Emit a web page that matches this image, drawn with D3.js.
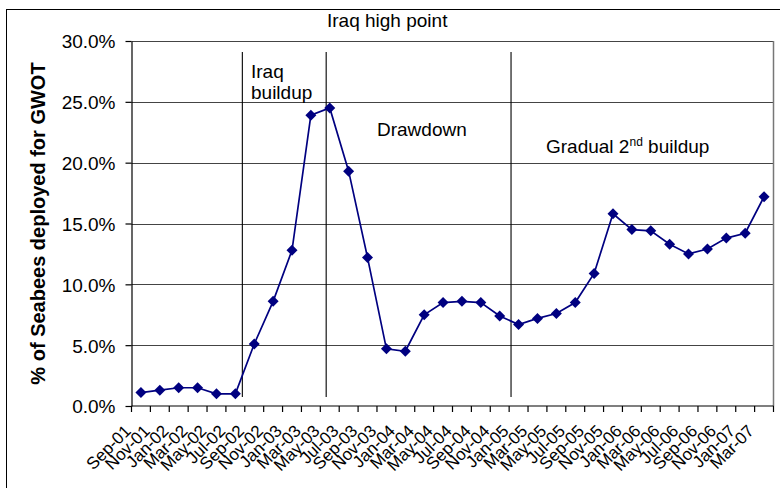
<!DOCTYPE html>
<html>
<head>
<meta charset="utf-8">
<script src="https://cdn.jsdelivr.net/npm/d3@7"></script>
<style>
  html, body { margin: 0; padding: 0; background: #fff; }
  svg { display: block; }
  text { font-family: "Liberation Sans", Arial, sans-serif; fill: #000; }
</style>
</head>
<body>
<svg id="chart" width="780" height="488"></svg>
<script>
// Bimonthly reporting dates
const months = [
  "Sep-01","Nov-01","Jan-02","Mar-02","May-02","Jul-02",
  "Sep-02","Nov-02","Jan-03","Mar-03","May-03","Jul-03",
  "Sep-03","Nov-03","Jan-04","Mar-04","May-04","Jul-04",
  "Sep-04","Nov-04","Jan-05","Mar-05","May-05","Jul-05",
  "Sep-05","Nov-05","Jan-06","Mar-06","May-06","Jul-06",
  "Sep-06","Nov-06","Jan-07","Mar-07"
];

// Share of Seabees deployed for GWOT (%)
const deployedPct = [
  1.1, 1.3, 1.5, 1.5, 1.0, 1.0,
  5.1, 8.6, 12.8, 23.9, 24.5, 19.3,
  12.2, 4.7, 4.5, 7.5, 8.5, 8.6,
  8.5, 7.4, 6.7, 7.2, 7.6, 8.5,
  10.9, 15.8, 14.5, 14.4, 13.3, 12.5,
  12.9, 13.8, 14.2, 17.2
];

const yTicks = [0, 5, 10, 15, 20, 25, 30];

// Phase boundaries, in months-axis units (0 = left edge of Sep-01)
const phaseBreaks = [5.87, 10.31, 20.1];
const phaseLineSpan = [0.75, 29.1]; // vertical extent, in % units

const svg = d3.select("#chart");

const plotL = 131.5, plotR = 773.5, plotT = 41, plotB = 406;

const x = d3.scaleBand().domain(months).range([plotL, plotR]).padding(0);
const xIdx = d3.scaleLinear().domain([0, months.length]).range([plotL, plotR]);
const y = d3.scaleLinear().domain([0, 30]).range([plotB, plotT]);

// outer frame
svg.append("rect")
  .attr("x", 6.5).attr("y", 9.5)
  .attr("width", 800).attr("height", 500)
  .attr("fill", "none").attr("stroke", "#000").attr("stroke-width", 1);

// horizontal gridlines
svg.append("g")
  .selectAll("line")
  .data(yTicks.filter(d => d > 0))
  .join("line")
  .attr("x1", plotL).attr("x2", plotR)
  .attr("y1", d => Math.round(y(d)) + 0.5).attr("y2", d => Math.round(y(d)) + 0.5)
  .attr("stroke", "#444").attr("stroke-width", 1.2);

// right edge of plot area
svg.append("line")
  .attr("x1", plotR).attr("x2", plotR)
  .attr("y1", y(30)).attr("y2", y(0))
  .attr("stroke", "#777").attr("stroke-width", 1.5);

// phase divider lines
svg.append("g")
  .selectAll("line")
  .data(phaseBreaks)
  .join("line")
  .attr("x1", d => xIdx(d)).attr("x2", d => xIdx(d))
  .attr("y1", y(phaseLineSpan[1])).attr("y2", y(phaseLineSpan[0]))
  .attr("stroke", "#000").attr("stroke-width", 1.1);

// y axis
const yAxis = d3.axisLeft(y)
  .tickValues(yTicks)
  .tickFormat(d => d.toFixed(1) + "%")
  .tickSizeInner(6).tickSizeOuter(0).tickPadding(10);

const gy = svg.append("g")
  .attr("transform", `translate(${plotL},0)`)
  .call(yAxis);
gy.select(".domain").attr("stroke", "#000").attr("stroke-width", 1.2);
gy.selectAll(".tick line").attr("stroke", "#000").attr("stroke-width", 1.2);
gy.selectAll(".tick text")
  .style("font-size", "19px")
  .attr("dy", "0.36em");

// x axis: ticks between categories
const gx = svg.append("g")
  .attr("transform", `translate(0,${plotB})`);
gx.append("line")
  .attr("x1", plotL).attr("x2", plotR)
  .attr("y1", 0).attr("y2", 0)
  .attr("stroke", "#000").attr("stroke-width", 1.2);
gx.selectAll("line.tk")
  .data(d3.range(months.length + 1))
  .join("line")
  .attr("class", "tk")
  .attr("x1", d => xIdx(d)).attr("x2", d => xIdx(d))
  .attr("y1", 0).attr("y2", 6)
  .attr("stroke", "#000").attr("stroke-width", 1.2);
gx.selectAll("text")
  .data(months)
  .join("text")
  .attr("text-anchor", "end")
  .attr("transform", d => `translate(${x(d) + x.bandwidth() / 2 - 9},26) rotate(-45)`)
  .style("font-size", "17px")
  .text(d => d);

// data line
const cx = d => x(d) + x.bandwidth() / 2;
const series = months.map((m, i) => ({ m, v: deployedPct[i] }));

svg.append("path")
  .datum(series)
  .attr("fill", "none")
  .attr("stroke", "#000080")
  .attr("stroke-width", 1.7)
  .attr("d", d3.line().x(d => cx(d.m)).y(d => y(d.v)));

svg.append("g")
  .selectAll("path")
  .data(series)
  .join("path")
  .attr("transform", d => `translate(${cx(d.m)},${y(d.v)})`)
  .attr("d", "M0,-5.5L5.5,0L0,5.5L-5.5,0Z")
  .attr("fill", "#000080");

// y axis title
svg.append("text")
  .attr("transform", `translate(45,${(plotT + plotB) / 2}) rotate(-90)`)
  .attr("text-anchor", "middle")
  .style("font-size", "20px")
  .style("font-weight", "bold")
  .text("% of Seabees deployed for GWOT");

// phase annotations
const note = (tx, ty) => svg.append("text")
  .attr("x", tx).attr("y", ty)
  .style("font-size", "19px");

note(327, 27).text("Iraq high point");
note(251, 78).text("Iraq");
note(251, 99).text("buildup");
note(377, 136).text("Drawdown");
const g2 = note(546, 153);
g2.append("tspan").text("Gradual 2");
g2.append("tspan").attr("dy", -7).style("font-size", "12px").text("nd");
g2.append("tspan").attr("dy", 7).text(" buildup");
</script>
</body>
</html>
